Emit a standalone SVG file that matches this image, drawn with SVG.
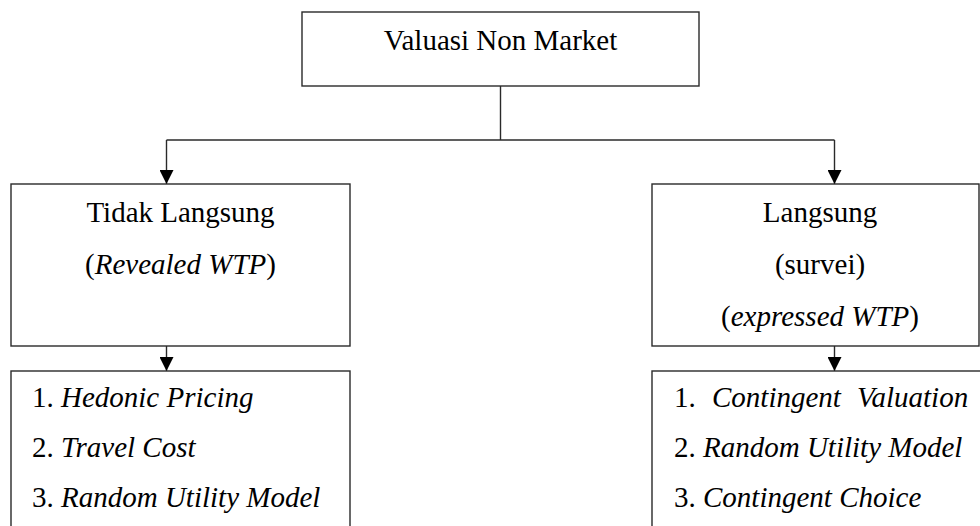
<svg xmlns="http://www.w3.org/2000/svg" width="980" height="526" viewBox="0 0 980 526">
<defs>
<style>
.box{fill:#fff;stroke:#2a2a2a;stroke-width:1.4}
.ln{fill:none;stroke:#2a2a2a;stroke-width:1.4}
.t{font-family:'Liberation Serif','Times New Roman',serif;font-size:29px;fill:#000}
.c{text-anchor:middle}
.i{font-style:italic}
</style>
<marker id="ah" viewBox="0 0 14 14" markerWidth="14" markerHeight="14" refX="14" refY="7" orient="auto" markerUnits="userSpaceOnUse">
<path d="M0,0 L14,7 L0,14 Z" fill="#000"/>
</marker>
</defs>
<rect width="980" height="526" fill="#fff"/>
<g id="connectors">
<line class="ln" x1="500.5" y1="86" x2="500.5" y2="140"/>
<line class="ln" x1="166.5" y1="140" x2="834.5" y2="140"/>
<line class="ln" x1="166.5" y1="140" x2="166.5" y2="184" marker-end="url(#ah)"/>
<line class="ln" x1="834.5" y1="140" x2="834.5" y2="184" marker-end="url(#ah)"/>
<line class="ln" x1="166.5" y1="346" x2="166.5" y2="371" marker-end="url(#ah)"/>
<line class="ln" x1="834.5" y1="346" x2="834.5" y2="371" marker-end="url(#ah)"/>
</g>
<g id="valuasi">
<rect class="box" x="302" y="12" width="397" height="74"/>
<text class="t c" x="500.5" y="50">Valuasi Non Market</text>
</g>
<g id="tidak-langsung">
<rect class="box" x="11" y="184" width="339" height="162"/>
<text class="t c" x="180.5" y="222">Tidak Langsung</text>
<text class="t c" x="180.5" y="274">(<tspan class="i">Revealed WTP</tspan>)</text>
</g>
<g id="langsung">
<rect class="box" x="652" y="184" width="327" height="162"/>
<text class="t c" x="820" y="222">Langsung</text>
<text class="t c" x="820" y="274">(survei)</text>
<text class="t c" x="820" y="326">(<tspan class="i">expressed WTP</tspan>)</text>
</g>
<g id="metode-tidak-langsung">
<rect class="box" x="11" y="371" width="339" height="170"/>
<text class="t" x="32" y="407">1. <tspan class="i">Hedonic Pricing</tspan></text>
<text class="t" x="32" y="457">2. <tspan class="i">Travel Cost</tspan></text>
<text class="t" x="32" y="507">3. <tspan class="i">Random Utility Model</tspan></text>
</g>
<g id="metode-langsung">
<rect class="box" x="652" y="371" width="340" height="170"/>
<text class="t" y="407"><tspan x="674">1.</tspan><tspan class="i" x="712">Contingent</tspan><tspan class="i" x="857">Valuation</tspan></text>
<text class="t" x="674" y="457">2. <tspan class="i">Random Utility Model</tspan></text>
<text class="t" x="674" y="507">3. <tspan class="i">Contingent Choice</tspan></text>
</g>
</svg>
